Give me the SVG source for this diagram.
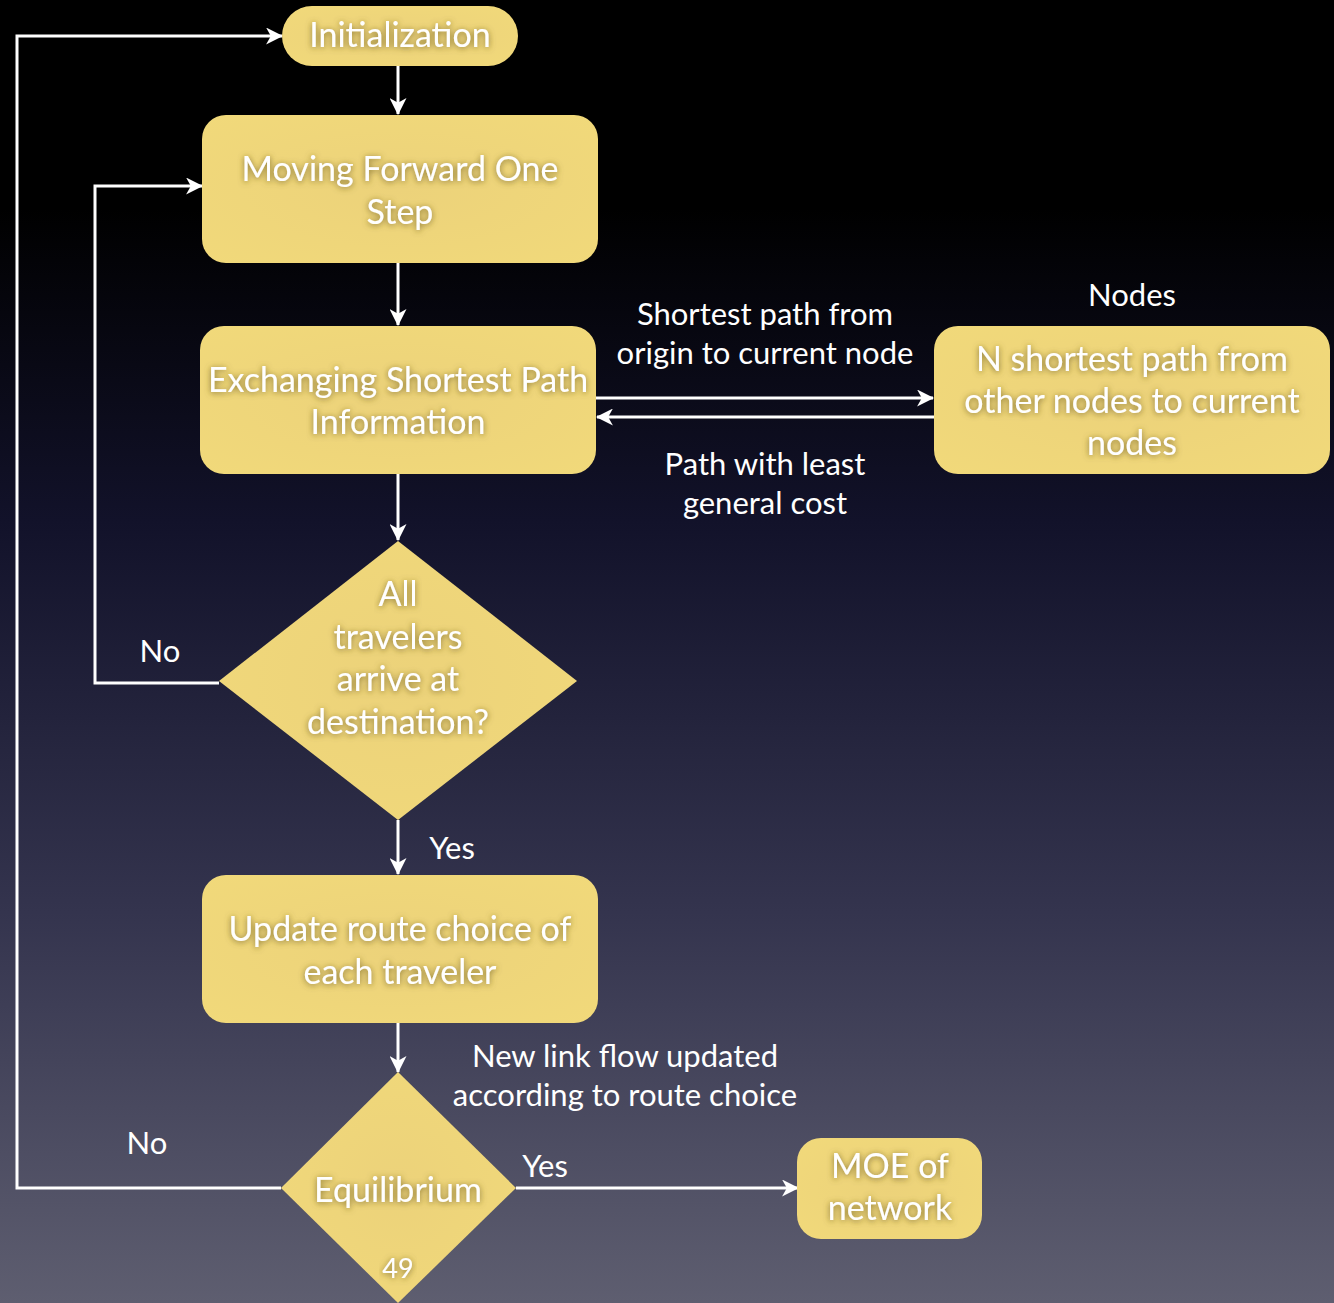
<svg xmlns="http://www.w3.org/2000/svg" width="1334" height="1303" viewBox="0 0 1334 1303">
  <defs>
    <linearGradient id="bg" x1="0" y1="0" x2="0" y2="1">
      <stop offset="0" stop-color="#000000"/>
      <stop offset="0.16" stop-color="#000000"/>
      <stop offset="0.4" stop-color="#12122a"/>
      <stop offset="0.7" stop-color="#34344e"/>
      <stop offset="1" stop-color="#5e5e70"/>
    </linearGradient>
    <radialGradient id="paper" cx="0.5" cy="0.5" r="0.7">
      <stop offset="0" stop-color="#ecd27a"/>
      <stop offset="1" stop-color="#f1d97a"/>
    </radialGradient>
    <filter id="glow" x="-10%" y="-30%" width="120%" height="160%">
      <feGaussianBlur in="SourceAlpha" stdDeviation="3"/>
      <feOffset dx="0" dy="1" result="b"/>
      <feFlood flood-color="#6b5a20" flood-opacity="0.85"/>
      <feComposite in2="b" operator="in"/>
      <feMerge><feMergeNode/><feMergeNode in="SourceGraphic"/></feMerge>
    </filter>
    <marker id="arrow" viewBox="0 0 16 16" refX="15" refY="8" markerWidth="17" markerHeight="17" markerUnits="userSpaceOnUse" orient="auto">
      <path d="M0,0 L16,8 L0,16 L4.5,8 Z" fill="#ffffff"/>
    </marker>
  </defs>
  <style>
    .node { fill: url(#paper); }
    .nt { font-family: Lato, "Open Sans", "Liberation Sans", sans-serif; font-size: 34px; fill: #ffffff; text-anchor: middle; filter: url(#glow); }
    .lbl { font-family: Lato, "Open Sans", "Liberation Sans", sans-serif; font-size: 31px; fill: #ffffff; text-anchor: middle; }
    .wire { fill: none; stroke: #ffffff; stroke-width: 3; }
    .arr { marker-end: url(#arrow); }
  </style>

  <rect width="1334" height="1303" fill="url(#bg)"/>

  <!-- connectors -->
  <g id="connectors">
    <line class="wire arr" x1="398" y1="56" x2="398" y2="114"/>
    <line class="wire arr" x1="398" y1="263" x2="398" y2="325"/>
    <line class="wire arr" x1="398" y1="474" x2="398" y2="540"/>
    <line class="wire arr" x1="398" y1="820" x2="398" y2="874"/>
    <line class="wire arr" x1="398" y1="1020" x2="398" y2="1072"/>
    <line class="wire arr" x1="596" y1="398" x2="933" y2="398"/>
    <line class="wire arr" x1="934" y1="417" x2="597" y2="417"/>
    <polyline class="wire arr" points="219,683 95,683 95,186 202,186"/>
    <polyline class="wire arr" points="281,1188 17,1188 17,36 282,36"/>
    <line class="wire arr" x1="516" y1="1188" x2="798" y2="1188"/>
  </g>

  <!-- edge labels -->
  <g id="labels">
    <text class="lbl" x="765" y="325">Shortest path from</text>
    <text class="lbl" x="765" y="364">origin to current node</text>
    <text class="lbl" x="1132" y="306">Nodes</text>
    <text class="lbl" x="765" y="475">Path with least</text>
    <text class="lbl" x="765" y="514">general cost</text>
    <text class="lbl" x="160" y="662">No</text>
    <text class="lbl" x="452" y="859">Yes</text>
    <text class="lbl" x="625" y="1067">New link flow updated</text>
    <text class="lbl" x="625" y="1106">according to route choice</text>
    <text class="lbl" x="147" y="1154">No</text>
    <text class="lbl" x="545" y="1177">Yes</text>
  </g>

  <g id="init">
    <rect class="node" x="282" y="6" width="236" height="60" rx="30"/>
    <text class="nt" x="400" y="47">Initialization</text>
  </g>

  <g id="move">
    <rect class="node" x="202" y="115" width="396" height="148" rx="24"/>
    <text class="nt" x="400" y="181">Moving Forward One</text>
    <text class="nt" x="400" y="224">Step</text>
  </g>

  <g id="exchange">
    <rect class="node" x="200" y="326" width="396" height="148" rx="24"/>
    <text class="nt" x="398" y="392">Exchanging Shortest Path</text>
    <text class="nt" x="398" y="434">Information</text>
  </g>

  <g id="nshortest">
    <rect class="node" x="934" y="326" width="396" height="148" rx="24"/>
    <text class="nt" x="1132" y="371">N shortest path from</text>
    <text class="nt" x="1132" y="413">other nodes to current</text>
    <text class="nt" x="1132" y="455">nodes</text>
  </g>

  <g id="arrived">
    <polygon class="node" points="398,541 577,681 398,820 219,681"/>
    <text class="nt" x="398" y="606">All</text>
    <text class="nt" x="398" y="649">travelers</text>
    <text class="nt" x="398" y="691">arrive at</text>
    <text class="nt" x="398" y="734">destination?</text>
  </g>

  <g id="update">
    <rect class="node" x="202" y="875" width="396" height="148" rx="24"/>
    <text class="nt" x="400" y="941">Update route choice of</text>
    <text class="nt" x="400" y="984">each traveler</text>
  </g>

  <g id="equilibrium">
    <polygon class="node" points="398,1072 516,1188 398,1303 281,1188"/>
    <text class="nt" x="398" y="1202">Equilibrium</text>
    <text class="nt" x="398" y="1278" style="font-size:27px">49</text>
  </g>

  <g id="moe">
    <rect class="node" x="797" y="1138" width="185" height="101" rx="24"/>
    <text class="nt" x="890" y="1178">MOE of</text>
    <text class="nt" x="890" y="1220">network</text>
  </g>
</svg>
